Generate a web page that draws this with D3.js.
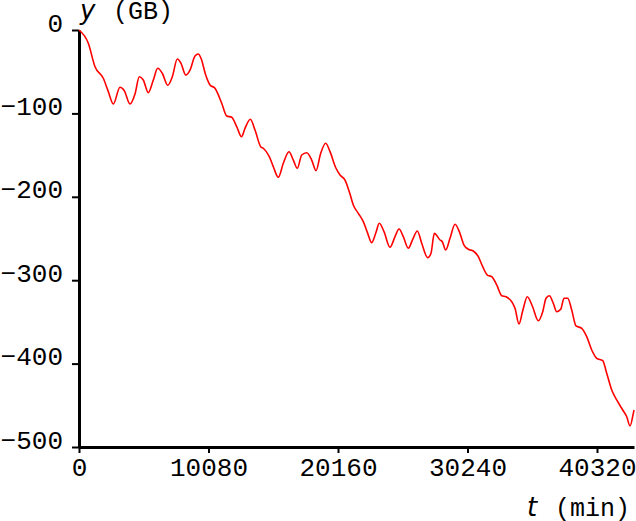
<!DOCTYPE html>
<html>
<head>
<meta charset="utf-8">
<script src="https://cdn.jsdelivr.net/npm/d3@7"></script>
<style>
  body { margin: 0; background: #fff; }
  svg { display: block; }
  .axis path, .axis line { stroke: #000; }
  .axis text { font-family: "Liberation Mono", monospace; font-size: 26px; fill: #000; }
  .unit { font-family: "Liberation Mono", monospace; font-size: 25px; }
  .var { font-family: "DejaVu Sans", sans-serif; font-style: italic; font-size: 26px; }
</style>
</head>
<body>
<div id="chart"></div>
<script>
// time in minutes, cumulative change in GB
const TIMES = [
  0, 724, 1245, 1891, 2281, 2670, 3191, 3526, 3970, 4359,
  4694, 5005, 5394, 5784, 6126, 6484, 6904, 7263, 7652, 7940,
  8306, 8640, 9029, 9286, 9496, 9862, 10197, 10586, 11108, 11497,
  11886, 12276, 12649, 12921, 13334, 13700, 14144, 14346, 14813, 15124,
  15513, 15903, 16346, 16681, 16992, 17335, 17724, 18113, 18448, 18814,
  19203, 19538, 20005, 20316, 20705, 21040, 21352, 21741, 22130, 22472,
  22784, 23095, 23375, 23741, 24208, 24597, 24909, 25244, 25633, 25975,
  26333, 26676, 27143, 27400, 27657, 28101, 28280, 28544, 28879, 29268,
  29603, 29969, 30303, 30693, 31082, 31424, 31782, 32125, 32514, 32903,
  33237, 33681, 33938, 34250, 34538, 34896, 35285, 35752, 36095, 36352,
  36609, 36920, 37185, 37496, 37753, 38041, 38352, 38687, 39131, 39520,
  39909, 40298, 40765, 41076, 41466, 41855, 42322, 42633, 42890, 43147,
  43200
];
const VALUES = [
  0, -15.9, -44.0, -57.9, -73.9, -88.7, -68.7, -72.8, -88.7, -76.7,
  -56.0, -60.0, -75.2, -60.0, -45.9, -51.9, -66.3, -56.0, -34.8, -39.9,
  -54.0, -48.0, -31.2, -28.8, -33.9, -54.0, -65.9, -69.9, -87.9, -103.1,
  -104.7, -115.9, -127.9, -117.9, -107.1, -119.9, -139.9, -141.8, -151.9, -163.9,
  -176.6, -159.8, -145.9, -155.9, -165.8, -149.9, -147.1, -155.9, -168.7, -147.8,
  -135.8, -145.9, -165.8, -173.9, -179.9, -193.9, -209.8, -219.8, -229.8, -243.8,
  -255.0, -243.8, -231.8, -241.8, -260.5, -247.8, -238.6, -247.8, -261.7, -251.0,
  -241.0, -255.7, -273.0, -267.7, -243.8, -251.8, -253.8, -263.8, -249.8, -233.0,
  -241.8, -257.8, -262.9, -265.0, -271.8, -283.8, -293.8, -295.8, -305.7, -318.6,
  -319.8, -325.8, -333.7, -352.5, -336.6, -319.8, -330.9, -348.6, -337.8, -321.7,
  -318.6, -327.7, -337.8, -334.9, -321.7, -321.7, -335.7, -354.9, -357.7, -367.7,
  -383.7, -393.6, -396.5, -411.6, -431.6, -443.6, -455.6, -463.7, -474.8, -459.6,
  -455.6
];
const X_TICKS = [0, 10080, 20160, 30240, 40320];
const Y_TICKS = [0, -100, -200, -300, -400, -500];

const WIDTH = 636;
const HEIGHT = 521;
const MARGIN = { top: 30, right: 2, bottom: 74, left: 79 };

const series = TIMES.map((t, i) => ({ t, v: VALUES[i] }));

const svg = d3.select("#chart")
  .append("svg")
  .attr("width", WIDTH)
  .attr("height", HEIGHT);

const x = d3.scaleLinear()
  .domain([0, 43200])
  .range([MARGIN.left, WIDTH - MARGIN.right]);

const y = d3.scaleLinear()
  .domain([-500, 0])
  .range([HEIGHT - MARGIN.bottom, MARGIN.top]);

// —— Axes ——
const xAxis = svg.append("g")
  .attr("class", "axis")
  .attr("transform", `translate(0,${y(-500)})`)
  .call(d3.axisBottom(x).tickValues(X_TICKS).tickFormat(d3.format("d")).tickSize(6).tickSizeOuter(0));
xAxis.select(".domain").attr("stroke-width", 3);
xAxis.selectAll(".tick line").attr("stroke-width", 2);
xAxis.selectAll(".tick text").attr("y", 29).attr("dy", 0);

const yAxis = svg.append("g")
  .attr("class", "axis")
  .attr("transform", `translate(${x(0)},0)`)
  .call(d3.axisLeft(y).tickValues(Y_TICKS).tickSize(7).tickSizeOuter(0));
yAxis.select(".domain").attr("stroke-width", 3);
yAxis.selectAll(".tick line").attr("stroke-width", 2);
yAxis.selectAll(".tick text").attr("x", -16).attr("dy", 0).attr("y", 1);

// —— Axis titles ——
svg.append("text").attr("class", "var").attr("x", 80).attr("y", 19).text("y");
svg.append("text").attr("class", "unit").attr("x", 113).attr("y", 19).text("(GB)");
svg.append("text").attr("class", "var").attr("x", 527).attr("y", 516).text("t");
svg.append("text").attr("class", "unit").attr("x", 555).attr("y", 516).text("(min)");

// —— Line ——
const line = d3.line()
  .x((d) => x(d.t))
  .y((d) => y(d.v))
  .curve(d3.curveMonotoneX);

svg.append("path")
  .datum(series)
  .attr("fill", "none")
  .attr("stroke", "#ff0000")
  .attr("stroke-width", 1.6)
  .attr("d", line);
</script>
</body>
</html>
